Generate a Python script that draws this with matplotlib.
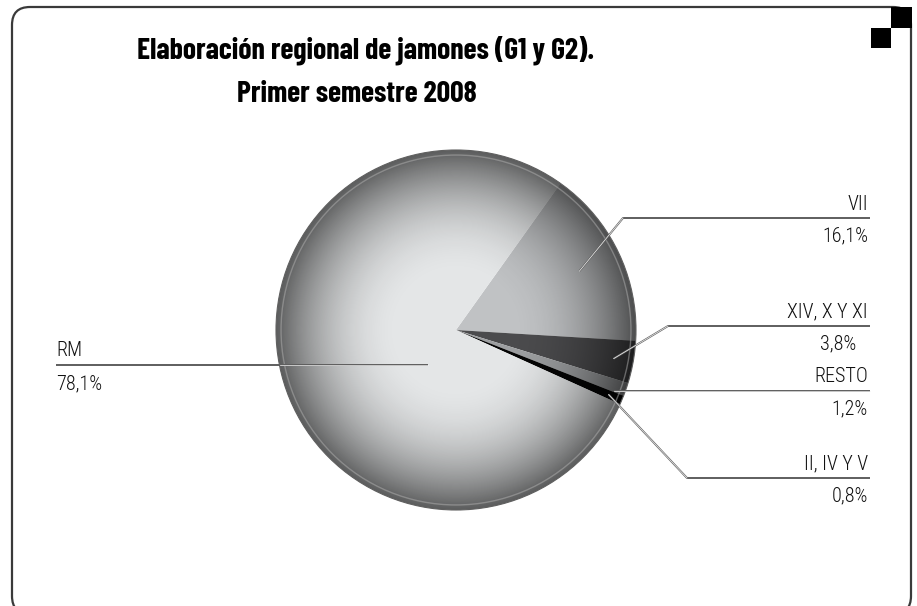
import numpy as np
import matplotlib
matplotlib.use("Agg")
import matplotlib.pyplot as plt
from matplotlib.patches import Circle, FancyBboxPatch, Rectangle

plt.rcParams['font.family'] = ['Roboto Condensed', 'DejaVu Sans']

# data
regions = ['VII', 'XIV, X Y XI', 'RESTO', 'II, IV Y V', 'RM']
shares = [16.1, 3.8, 1.2, 0.8, 78.1]
share_labels = ['16,1%', '3,8%', '1,2%', '0,8%', '78,1%']
colors = ['#c0c2c4', '#4b4b4d', '#9c9ea0', '#050505', '#e4e6e7']

W, H = 917, 606
fig = plt.figure(figsize=(W / 100, H / 100), dpi=100)
ax = fig.add_axes([0, 0, 1, 1])


def py(y):
    # pixel row (from top) -> data y
    return H - y


cx, cy, R = 456, py(330), 180

wedges, _ = ax.pie(shares, colors=colors, startangle=54.5, counterclock=False,
                   center=(cx, cy), radius=R, frame=True,
                   wedgeprops=dict(linewidth=0, edgecolor='none'))
ax.set_xlim(0, W)
ax.set_ylim(0, H)
ax.set_aspect('equal')
ax.axis('off')

# spherical shading
n = 500
g = np.linspace(-1, 1, n)
gx, gy = np.meshgrid(g, g)
r = np.sqrt(gx ** 2 + gy ** 2)
shade = np.zeros((n, n, 4))
shade[..., 3] = 0.6 * np.clip((r - 0.3) / 0.7, 0, 1) ** 2.0
clip = Circle((cx, cy), R, transform=ax.transData, facecolor='none', edgecolor='none')
ax.add_patch(clip)
im = ax.imshow(shade, extent=(cx - R, cx + R, cy - R, cy + R), zorder=3,
               interpolation='bilinear')
im.set_clip_path(clip)
ax.add_patch(Circle((cx, cy), R * 0.972, facecolor='none', edgecolor='#b0b0b0',
                    lw=1.0, alpha=0.5, zorder=4))
ax.add_patch(Circle((cx, cy), R, facecolor='none', edgecolor='#606060', lw=0.8, zorder=4))

# leader lines and labels (layout)
anchor_frac = [0.76, 0.89, 0.93, 0.92, 0.25]
line_y = [218, 326, 391, 478, 365]
elbow_x = [623, 668, None, 687, None]
pct_right = [868, 856, 868, 868, None]
lab_kw = dict(fontsize=14.5, fontweight=300, color='#111111', va='center')

for i, w in enumerate(wedges):
    ly = py(line_y[i])
    if regions[i] == 'RM':
        ang = np.deg2rad(-129)
        ax_ = cx + anchor_frac[i] * R * np.cos(ang)
        ax.plot([56, ax_], [ly, ly], color='#5e5e5e', lw=1.4, zorder=5, solid_capstyle='butt')
        ax.plot([cx - R * 0.98, ax_], [ly, ly], color='#f4f4f4', lw=0.5, zorder=6)
        ax.text(56, py(line_y[i] - 14), regions[i], ha='left', **lab_kw)
        ax.text(56, py(line_y[i] + 19), share_labels[i], ha='left', **lab_kw)
        continue
    ang = np.deg2rad((w.theta1 + w.theta2) / 2)
    ax_ = cx + anchor_frac[i] * R * np.cos(ang)
    ay_ = cy + anchor_frac[i] * R * np.sin(ang)
    if elbow_x[i] is None:
        xs, ys = [ax_, 870], [ly, ly]
    else:
        xs, ys = [ax_, elbow_x[i], 870], [ay_, ly, ly]
    ax.plot(xs, ys, color='#5e5e5e', lw=1.4, zorder=5, solid_capstyle='butt')
    ax.plot(xs[:2], ys[:2], color='#f4f4f4', lw=0.5, zorder=6)
    ax.text(868, py(line_y[i] - 14), regions[i], ha='right', **lab_kw)
    ax.text(pct_right[i], py(line_y[i] + 18), share_labels[i], ha='right', **lab_kw)

# title
title_kw = dict(ha='center', va='center', fontsize=21.5, fontweight=700, color='black',
                family=['Barlow Condensed', 'Roboto Condensed', 'DejaVu Sans'])
ax.text(366, py(50), 'Elaboración regional de jamones (G1 y G2).', **title_kw)
ax.text(357, py(95), 'Primer semestre 2008', **title_kw)

# frame and corner squares
frame = FancyBboxPatch((12, py(614)), 899, 607, boxstyle='round,pad=0,rounding_size=18',
                       facecolor='none', edgecolor='#3a3a3a', lw=1.6, zorder=1)
ax.add_patch(frame)
ax.add_patch(Rectangle((891, py(28)), 21, 21, facecolor='black', edgecolor='none', zorder=7))
ax.add_patch(Rectangle((871, py(48)), 20, 20, facecolor='black', edgecolor='none', zorder=7))

fig.savefig('out.png', dpi=100, facecolor='white')
